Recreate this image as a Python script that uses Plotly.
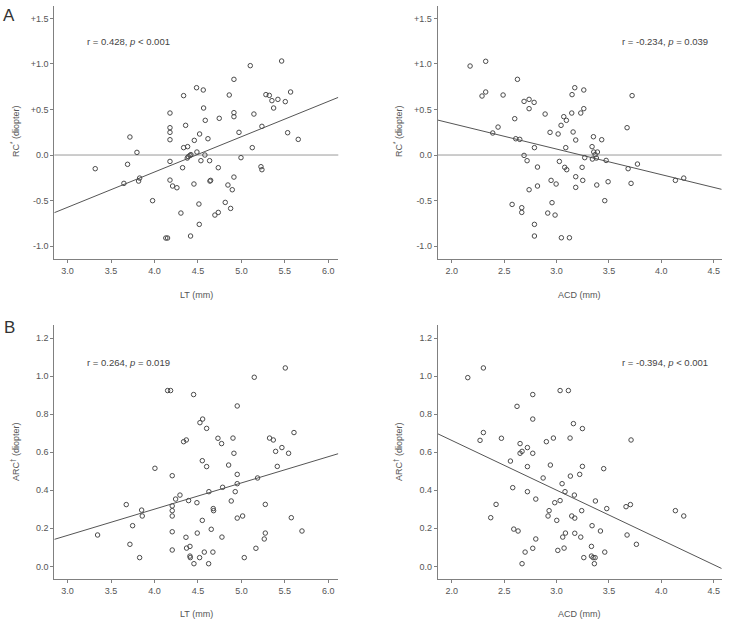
import plotly.graph_objects as go

# ---------------- data ----------------
# Panel A-left: LT (mm) vs RC* (diopter)
a1_lt = [3.318, 3.648, 3.690, 3.717, 3.798, 3.817, 3.829, 3.978, 4.13, 4.15, 4.178, 4.178, 4.178, 4.178,
         4.178, 4.178, 4.208, 4.258, 4.304, 4.323, 4.335, 4.335, 4.358, 4.381, 4.377, 4.389, 4.408, 4.419,
         4.415, 4.454, 4.458, 4.484, 4.488, 4.511, 4.515, 4.519, 4.534, 4.561, 4.565, 4.580, 4.584, 4.615,
         4.634, 4.638, 4.646, 4.695, 4.734, 4.734, 4.745, 4.845, 4.860, 4.876, 4.895, 4.814, 4.914, 4.914,
         4.914, 4.914, 4.972, 4.995, 5.102, 5.125, 5.144, 5.225, 5.236, 5.236, 5.282, 5.321, 5.351, 5.371,
         5.420, 5.463, 5.505, 5.532, 5.566, 5.654]
a1_rc = [-0.150, -0.311, -0.102, 0.198, 0.029, -0.286, -0.253, -0.501, -0.911, -0.911, 0.461, 0.300, 0.249,
         0.168, -0.070, -0.275, -0.340, -0.359, -0.637, -0.139, 0.652, 0.081, 0.326, 0.092, -0.033, -0.018,
         -0.004, 0.004, -0.889, -0.318, 0.161, 0.739, 0.033, -0.538, -0.761, 0.231, -0.062, 0.714, 0.516,
         0.000, 0.381, 0.179, -0.062, -0.286, -0.278, -0.659, -0.630, -0.139, 0.403, -0.329, 0.659, -0.586,
         -0.381, -0.520, 0.831, 0.465, 0.421, -0.242, 0.249, -0.029, 0.981, 0.081, 0.450, -0.128, -0.161,
         0.315, 0.663, 0.655, 0.597, 0.516, 0.611, 1.032, 0.586, 0.245, 0.692, 0.172]

# Panel A-right: ACD (mm) vs RC* (diopter)
a2_acd = [2.175, 2.324, 2.324, 2.289, 2.391, 2.442, 2.490, 2.576, 2.601, 2.611, 2.649, 2.627, 2.668, 2.668,
          2.690, 2.690, 2.719, 2.738, 2.738, 2.738, 2.786, 2.789, 2.789, 2.789, 2.818, 2.818, 2.891, 2.916,
          2.938, 2.948, 2.957, 2.986, 2.996, 3.015, 3.027, 3.043, 3.046, 3.069, 3.078, 3.088, 3.094, 3.097,
          3.123, 3.145, 3.148, 3.158, 3.174, 3.183, 3.183, 3.183, 3.231, 3.244, 3.250, 3.260, 3.260, 3.269,
          3.339, 3.342, 3.352, 3.355, 3.368, 3.380, 3.384, 3.390, 3.431, 3.460, 3.473, 3.492, 3.673, 3.683,
          3.711, 3.721, 3.772, 4.134, 4.214]
a2_rc = [0.977, 1.029, 0.692, 0.648, 0.242, 0.307, 0.659, -0.542, 0.399, 0.179, 0.172, 0.831, -0.578, -0.630,
         -0.004, 0.589, -0.062, 0.611, 0.509, -0.381, 0.578, 0.081, -0.761, -0.889, -0.132, -0.340, 0.450,
         -0.637, 0.249, -0.278, -0.523, -0.659, -0.318, 0.231, -0.070, 0.326, -0.908, 0.421, -0.135, 0.081,
         0.381, -0.161, -0.908, 0.461, 0.663, 0.253, 0.739, 0.165, -0.238, -0.355, 0.461, -0.135, -0.278,
         0.714, 0.509, -0.029, 0.092, -0.044, 0.201, 0.033, 0.004, -0.033, -0.329, 0.033, 0.168, -0.501,
         -0.059, -0.293, 0.300, -0.150, -0.311, 0.652, -0.099, -0.278, -0.253]

# Panel B-left: LT (mm) vs ARC† (diopter)
b1_lt = [3.345, 3.675, 3.717, 3.748, 3.829, 3.852, 3.859, 4.005, 4.151, 4.185, 4.204, 4.204, 4.204, 4.204,
         4.204, 4.204, 4.243, 4.293, 4.335, 4.366, 4.362, 4.369, 4.392, 4.408, 4.408, 4.412, 4.450, 4.454,
         4.488, 4.492, 4.519, 4.523, 4.550, 4.554, 4.550, 4.573, 4.600, 4.600, 4.623, 4.626, 4.653, 4.676,
         4.680, 4.672, 4.730, 4.772, 4.776, 4.784, 4.853, 4.883, 4.903, 4.914, 4.929, 4.952, 4.952, 4.952,
         4.952, 5.014, 5.033, 5.148, 5.167, 5.186, 5.263, 5.275, 5.275, 5.324, 5.367, 5.394, 5.413, 5.466,
         5.505, 5.543, 5.574, 5.605, 5.697]
b1_arc = [0.165, 0.325, 0.116, 0.214, 0.046, 0.296, 0.265, 0.516, 0.925, 0.925, 0.477, 0.318, 0.293, 0.265,
          0.182, 0.086, 0.354, 0.375, 0.656, 0.665, 0.153, 0.096, 0.346, 0.105, 0.054, 0.046, 0.904, 0.014,
          0.335, 0.175, 0.046, 0.756, 0.242, 0.775, 0.556, 0.075, 0.726, 0.525, 0.014, 0.393, 0.195, 0.304,
          0.293, 0.075, 0.674, 0.646, 0.154, 0.416, 0.533, 0.344, 0.675, 0.595, 0.393, 0.844, 0.484, 0.435,
          0.254, 0.265, 0.046, 0.995, 0.095, 0.465, 0.144, 0.326, 0.175, 0.675, 0.665, 0.605, 0.526, 0.625,
          1.044, 0.595, 0.256, 0.704, 0.186]

# Panel B-right: ACD (mm) vs ARC† (diopter)
b2_acd = [2.153, 2.302, 2.270, 2.302, 2.372, 2.423, 2.474, 2.560, 2.582, 2.592, 2.633, 2.623, 2.652, 2.652,
          2.671, 2.671, 2.700, 2.722, 2.722, 2.722, 2.773, 2.773, 2.773, 2.773, 2.802, 2.802, 2.872, 2.903,
          2.929, 2.919, 2.941, 2.970, 2.983, 3.002, 3.012, 3.034, 3.034, 3.053, 3.059, 3.072, 3.081, 3.085,
          3.113, 3.129, 3.132, 3.145, 3.161, 3.170, 3.174, 3.174, 3.221, 3.231, 3.240, 3.247, 3.247, 3.260,
          3.333, 3.339, 3.333, 3.349, 3.368, 3.361, 3.371, 3.419, 3.450, 3.460, 3.479, 3.663, 3.673, 3.705,
          3.711, 3.762, 4.134, 4.214]
b2_arc = [0.993, 1.044, 0.663, 0.704, 0.256, 0.326, 0.674, 0.554, 0.414, 0.196, 0.186, 0.842, 0.595, 0.646,
          0.605, 0.014, 0.075, 0.625, 0.525, 0.393, 0.904, 0.775, 0.595, 0.095, 0.354, 0.144, 0.465, 0.656,
          0.293, 0.265, 0.533, 0.675, 0.335, 0.242, 0.084, 0.925, 0.346, 0.435, 0.154, 0.096, 0.393, 0.175,
          0.925, 0.675, 0.475, 0.265, 0.751, 0.375, 0.254, 0.174, 0.484, 0.154, 0.293, 0.526, 0.725, 0.046,
          0.105, 0.214, 0.054, 0.046, 0.046, 0.014, 0.344, 0.186, 0.514, 0.075, 0.304, 0.314, 0.165, 0.325,
          0.665, 0.116, 0.293, 0.265]

# regression fits (intercept, slope)
fit_a1 = (-1.736, 0.3874)
fit_a2 = (0.908, -0.2808)
fit_b1 = (-0.251, 0.138)
fit_b2 = (1.186, -0.2617)

stats_text = ["r = 0.428, <i>p</i> < 0.001", "r = -0.234, <i>p</i> = 0.039",
              "r = 0.264, <i>p</i> = 0.019", "r = -0.394, <i>p</i> < 0.001"]

lt_ticks = [3.0, 3.5, 4.0, 4.5, 5.0, 5.5, 6.0]
acd_ticks = [2.0, 2.5, 3.0, 3.5, 4.0, 4.5]
rc_ticks = [-1.0, -0.5, 0.0, 0.5, 1.0, 1.5]
rc_labels = ["-1.0", "-0.5", "0.0", "+0.5", "+1.0", "+1.5"]
arc_ticks = [0.0, 0.2, 0.4, 0.6, 0.8, 1.0, 1.2]
arc_labels = ["0.0", "0.2", "0.4", "0.6", "0.8", "1.0", "1.2"]

# ---------------- figure ----------------
W, H = 731, 622
FONT = "Liberation Sans, Arial, Helvetica, sans-serif"
MK = "#4a4a4a"
AX = "#808080"

def px(x):
    return x / W

def py(y):
    return 1 - y / H

panels = [
    dict(x=a1_lt, y=a1_rc, fit=fit_a1, xr=[2.847, 6.115], yr=[-1.138, 1.636],
         xd=(54.3, 338.3), yd=(6, 258.7), xt=lt_ticks, yt=rc_ticks, yl=rc_labels),
    dict(x=a2_acd, y=a2_rc, fit=fit_a2, xr=[1.866, 4.576], yr=[-1.138, 1.636],
         xd=(437.7, 721.7), yd=(6, 258.7), xt=acd_ticks, yt=rc_ticks, yl=rc_labels),
    dict(x=b1_lt, y=b1_arc, fit=fit_b1, xr=[2.847, 6.115], yr=[-0.065, 1.27],
         xd=(54.3, 338.3), yd=(325, 578.7), xt=lt_ticks, yt=arc_ticks, yl=arc_labels),
    dict(x=b2_acd, y=b2_arc, fit=fit_b2, xr=[1.866, 4.576], yr=[-0.065, 1.27],
         xd=(437.7, 721.7), yd=(325, 578.7), xt=acd_ticks, yt=arc_ticks, yl=arc_labels),
]

fig = go.Figure()
layout = {}
shapes = []
for i, p in enumerate(panels, start=1):
    xa = "x" if i == 1 else f"x{i}"
    ya = "y" if i == 1 else f"y{i}"
    b0, b1 = p["fit"]
    fx = p["xr"]
    fig.add_trace(go.Scatter(x=fx, y=[b0 + b1 * v for v in fx], mode="lines",
                             line=dict(color="#555555", width=1), xaxis=xa, yaxis=ya,
                             showlegend=False, hoverinfo="skip"))
    fig.add_trace(go.Scatter(x=p["x"], y=p["y"], mode="markers",
                             marker=dict(symbol="circle-open", size=4.5, color=MK,
                                         line=dict(width=1, color=MK)),
                             xaxis=xa, yaxis=ya, showlegend=False, cliponaxis=False))
    axkey = "xaxis" if i == 1 else f"xaxis{i}"
    aykey = "yaxis" if i == 1 else f"yaxis{i}"
    layout[axkey] = dict(domain=[px(p["xd"][0]), px(p["xd"][1])], range=p["xr"], anchor=ya,
                         tickvals=p["xt"], ticktext=[f"{v:.1f}" for v in p["xt"]],
                         showline=True, linecolor=AX, linewidth=1, ticks="outside",
                         ticklen=3, tickcolor=AX, showgrid=False, zeroline=False,
                         tickfont=dict(size=9, color="#555555", family=FONT))
    layout[aykey] = dict(domain=[py(p["yd"][1]), py(p["yd"][0])], range=p["yr"], anchor=xa,
                         tickvals=p["yt"], ticktext=p["yl"],
                         showline=True, linecolor=AX, linewidth=1, ticks="outside",
                         ticklen=3, tickcolor=AX, showgrid=False, zeroline=False,
                         tickfont=dict(size=9, color="#555555", family=FONT))
    if i <= 2:
        shapes.append(dict(type="line", xref=f"{xa} domain", yref=ya, x0=0, x1=1, y0=0, y1=0,
                           line=dict(color="#9a9a9a", width=1), layer="below"))

annotations = []
xtitles = [("LT (mm)", 196.3, 294.5), ("ACD (mm)", 579.7, 294.5),
           ("LT (mm)", 196.3, 614), ("ACD (mm)", 579.7, 614)]
for t, x, y in xtitles:
    annotations.append(dict(text=t, x=px(x), y=py(y), xref="paper", yref="paper",
                            showarrow=False, xanchor="center", yanchor="middle",
                            font=dict(size=9, color="#555555", family=FONT)))
ytitles = [("RC<sup>*</sup> (diopter)", 15, 132), ("RC<sup>*</sup> (diopter)", 398, 132),
           ("ARC<sup>†</sup> (diopter)", 15, 452), ("ARC<sup>†</sup> (diopter)", 398, 452)]
for t, x, y in ytitles:
    annotations.append(dict(text=t, x=px(x), y=py(y), xref="paper", yref="paper",
                            showarrow=False, xanchor="center", yanchor="middle", textangle=-90,
                            font=dict(size=9, color="#555555", family=FONT)))
stat_pos = [(85, 42, "left"), (710, 42, "right"), (85, 362, "left"), (710, 362, "right")]
for t, (x, y, anc) in zip(stats_text, stat_pos):
    annotations.append(dict(text=t, x=px(x), y=py(y), xref="paper", yref="paper",
                            showarrow=False, xanchor=anc, yanchor="middle",
                            font=dict(size=9.5, color="#444444", family=FONT)))
for t, x, y in [("A", 9, 16), ("B", 9, 327)]:
    annotations.append(dict(text=t, x=px(x), y=py(y), xref="paper", yref="paper",
                            showarrow=False, xanchor="center", yanchor="middle",
                            font=dict(size=17, color="#333333", family=FONT)))

fig.update_layout(width=W, height=H, margin=dict(l=0, r=0, t=0, b=0),
                  paper_bgcolor="white", plot_bgcolor="white",
                  shapes=shapes, annotations=annotations, **layout)
fig.write_html("out.html")
